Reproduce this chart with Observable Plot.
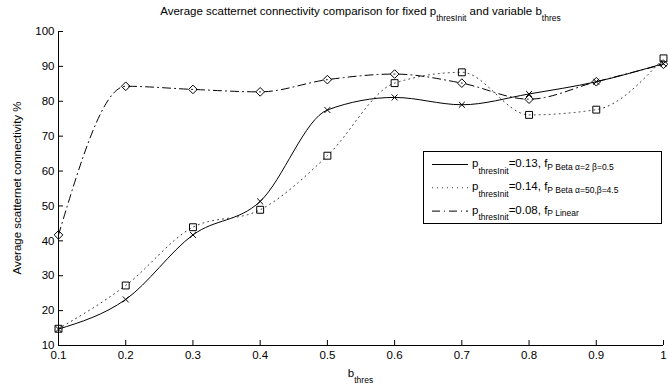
<!DOCTYPE html>
<html>
<head>
<meta charset="utf-8">
<script src="https://cdn.jsdelivr.net/npm/d3@7"></script>
<script src="https://cdn.jsdelivr.net/npm/@observablehq/plot@0.6"></script>
<style>
  html, body { margin: 0; padding: 0; background: #fff; }
  #chart { width: 668px; height: 390px; }
</style>
</head>
<body>
<div id="chart"></div>
<script>
// ---- data ----
const bThres = [0.1, 0.2, 0.3, 0.4, 0.5, 0.6, 0.7, 0.8, 0.9, 1.0];
const conn013Beta = [14.7, 23.2, 41.7, 51.3, 77.5, 81.1, 79.0, 82.1, 85.6, 90.8];
const conn014Beta = [14.8, 27.2, 43.9, 48.9, 64.4, 85.2, 88.3, 76.1, 77.6, 92.3];
const conn008Linear = [41.7, 84.3, 83.4, 82.7, 86.2, 87.8, 85.2, 80.6, 85.6, 90.6];
const xTicks = [0.1, 0.2, 0.3, 0.4, 0.5, 0.6, 0.7, 0.8, 0.9, 1.0];
const yTicks = [10, 20, 30, 40, 50, 60, 70, 80, 90, 100];

const rows = bThres.map((b, i) => ({b, s1: conn013Beta[i], s2: conn014Beta[i], s3: conn008Linear[i]}));

const FONT = "'Liberation Sans', Arial, Helvetica, sans-serif";
const fmtX = d => String(+d.toFixed(1));

const svg = Plot.plot({
  width: 668,
  height: 390,
  marginLeft: 58,
  marginRight: 5,
  marginTop: 31,
  marginBottom: 45,
  style: {fontFamily: FONT, fontSize: "11.5px", background: "white", color: "black", overflow: "visible"},
  x: {domain: [0.1, 1], label: null},
  y: {domain: [10, 100], label: null},
  marks: [
    Plot.ruleX([0.1], {stroke: "black", strokeWidth: 1}),
    Plot.ruleY([10], {stroke: "black", strokeWidth: 1}),
    Plot.axisX({ticks: xTicks, tickSize: -5, tickFormat: () => "", label: null}),
    Plot.axisX({ticks: xTicks, tickSize: 0, tickPadding: 5, tickFormat: fmtX, label: null, fontSize: 11.5}),
    Plot.axisY({ticks: yTicks, tickSize: -5, tickFormat: () => "", label: null}),
    Plot.axisY({ticks: yTicks, tickSize: 0, tickPadding: 4, tickFormat: d => String(d), label: null, fontSize: 11.5}),
    Plot.line(rows, {x: "b", y: "s1", curve: "monotone-x", stroke: "black", strokeWidth: 1}),
    Plot.line(rows, {x: "b", y: "s2", curve: "monotone-x", stroke: "#333", strokeWidth: 1, strokeDasharray: "1,4"}),
    Plot.line(rows, {x: "b", y: "s3", curve: "monotone-x", stroke: "black", strokeWidth: 1, strokeDasharray: "8,4,1,4"}),
    Plot.dot(rows, {x: "b", y: "s1", symbol: "times", r: 2.8, stroke: "black", fill: "none", strokeWidth: 1}),
    Plot.dot(rows, {x: "b", y: "s2", symbol: "square", r: 3.9, stroke: "black", fill: "none", strokeWidth: 1}),
    Plot.dot(rows, {x: "b", y: "s3", symbol: "diamond2", r: 3.9, stroke: "black", fill: "none", strokeWidth: 1})
  ]
});
document.getElementById("chart").appendChild(svg);

const s = d3.select(svg);
const MAIN = 11.5, SUB = 8.5;

function richText(g, x, y, parts, anchor) {
  const t = g.append("text")
    .attr("x", x).attr("y", y)
    .attr("text-anchor", anchor || "start")
    .attr("font-family", FONT)
    .attr("fill", "black");
  let cur = 0;
  parts.forEach(([txt, size, off]) => {
    t.append("tspan")
      .attr("font-size", size)
      .attr("dy", off - cur)
      .text(txt);
    cur = off;
  });
  return t;
}

// title
richText(s, 360.5, 15, [
  ["Average scatternet connectivity comparison for fixed p", MAIN, 0],
  ["thresInit", SUB, 5.5],
  [" and variable b", MAIN, 0],
  ["thres", SUB, 5.5]
], "middle");

// x label
richText(s, 360.5, 376.5, [["b", MAIN, 0], ["thres", SUB, 6]], "middle");

// y label
s.append("text")
  .attr("transform", "translate(21,188) rotate(-90)")
  .attr("text-anchor", "middle")
  .attr("font-family", FONT)
  .attr("font-size", MAIN)
  .attr("fill", "black")
  .text("Average scatternet connectivity %");

// legend
const lg = s.append("g");
lg.append("rect")
  .attr("x", 423.5).attr("y", 151.5)
  .attr("width", 238).attr("height", 72)
  .attr("fill", "white").attr("stroke", "black").attr("stroke-width", 1);

const legendRows = [
  {dash: null, stroke: "black", sub2: "P Beta α=2 β=0.5", val: "=0.13, f"},
  {dash: "1,4", stroke: "#333", sub2: "P Beta α=50,β=4.5", val: "=0.14, f"},
  {dash: "8,4,1,4", stroke: "black", sub2: "P Linear", val: "=0.08, f"}
];
legendRows.forEach((r, i) => {
  const yb = 167 + i * 23.3;
  lg.append("line")
    .attr("x1", 432).attr("x2", 468)
    .attr("y1", yb - 2.5).attr("y2", yb - 2.5)
    .attr("stroke", r.stroke).attr("stroke-width", 1)
    .attr("stroke-dasharray", r.dash);
  richText(lg, 472, yb, [
    ["p", MAIN, 0],
    ["thresInit", SUB, 6.5],
    [r.val, MAIN, 0],
    [r.sub2, SUB, 2.5]
  ]);
});
</script>
</body>
</html>
